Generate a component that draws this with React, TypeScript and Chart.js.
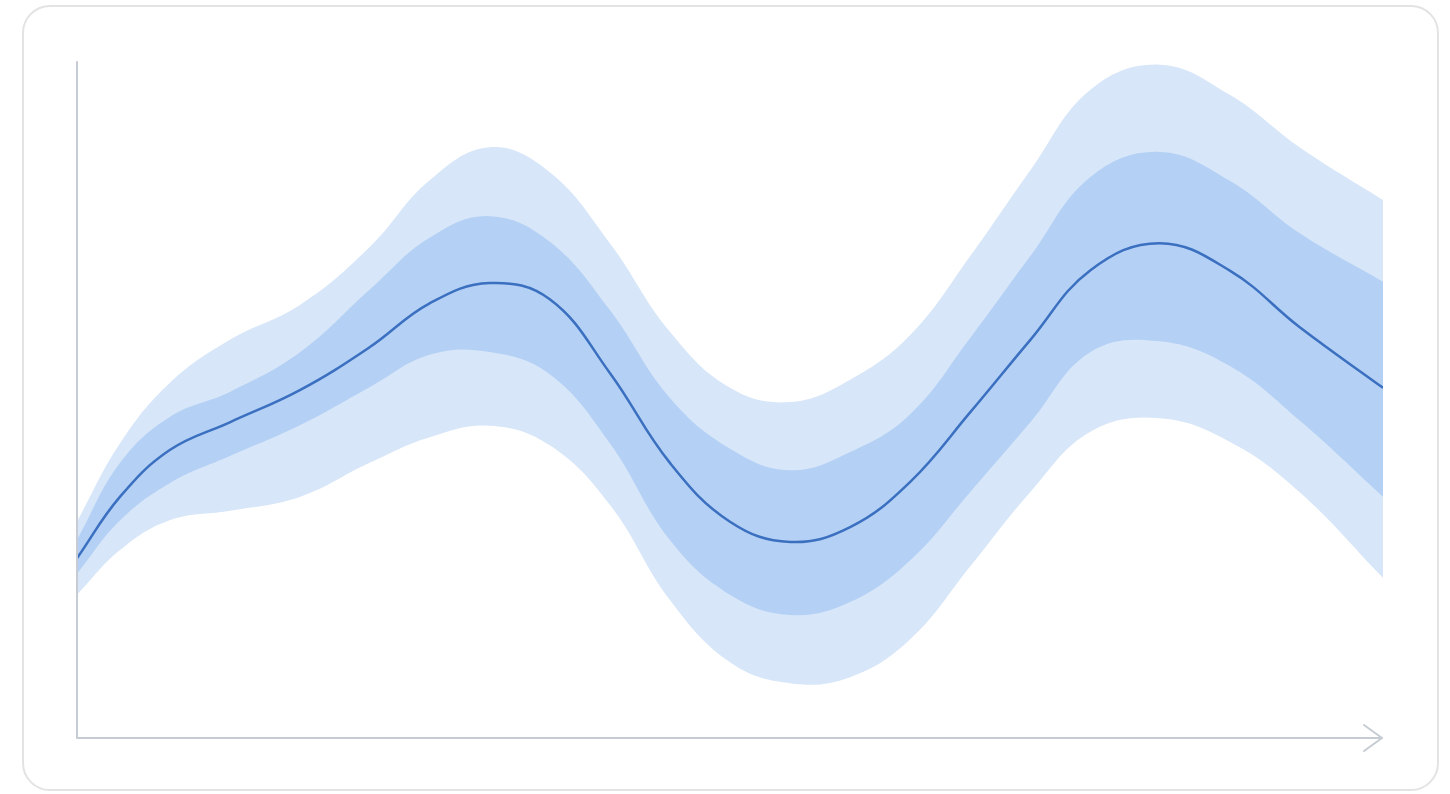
import React, { useEffect, useRef } from "react";
import { Chart, registerables } from "chart.js";

Chart.register(...registerables);

// x positions (time units, 0..100)
const xValues = [0, 3.3, 7.1, 11.7, 17.1, 22.4, 27.0, 31.6, 36.2, 40.8, 45.4, 50.0, 54.6, 59.2, 63.8, 68.4, 73.0, 77.6, 82.9, 88.3, 93.6, 100];

const centerLine = [26.6, 35.7, 42.6, 46.7, 51.5, 57.8, 64.3, 67.3, 64.9, 54.0, 40.7, 32.0, 29.0, 31.2, 37.9, 48.2, 58.9, 69.2, 73.2, 69.1, 60.8, 51.8];
const innerUpper = [29.3, 40.7, 47.5, 51.2, 57.1, 66.3, 74.0, 77.2, 73.4, 63.3, 50.3, 42.8, 39.6, 42.3, 47.9, 59.2, 71.3, 83.0, 86.7, 82.4, 74.7, 67.5];
const innerLower = [24.3, 32.2, 37.7, 41.7, 46.3, 51.9, 56.7, 57.1, 53.8, 43.6, 29.3, 21.2, 18.2, 20.1, 26.3, 36.4, 46.7, 57.1, 58.7, 55.0, 47.0, 35.7];
const outerUpper = [32.0, 43.6, 52.5, 58.9, 64.1, 72.6, 82.5, 87.4, 83.7, 73.2, 60.1, 51.8, 49.7, 53.0, 59.6, 71.3, 84.0, 95.9, 99.6, 95.1, 87.4, 79.6];
const outerLower = [21.2, 27.8, 32.2, 33.6, 35.7, 40.7, 44.5, 46.2, 43.3, 34.5, 20.4, 11.2, 8.1, 9.0, 14.6, 25.4, 36.4, 45.3, 47.3, 43.8, 36.4, 23.7];

const toPoints = (ys: number[]) => ys.map((y, i) => ({ x: xValues[i], y }));

const axesPlugin = {
  id: "arrowAxes",
  afterDatasetsDraw(chart: any) {
    const { ctx, chartArea } = chart;
    const { left, right, top, bottom } = chartArea;
    ctx.save();
    ctx.strokeStyle = "#c7ccd4";
    ctx.lineWidth = 2;
    ctx.lineCap = "round";
    ctx.lineJoin = "round";
    ctx.beginPath();
    ctx.moveTo(left, top);
    ctx.lineTo(left, bottom);
    ctx.lineTo(right - 1, bottom);
    ctx.stroke();
    ctx.beginPath();
    ctx.moveTo(right - 19, bottom - 13);
    ctx.lineTo(right - 1, bottom);
    ctx.lineTo(right - 19, bottom + 13);
    ctx.stroke();
    ctx.restore();
  },
};

export default function App() {
  const canvasRef = useRef<HTMLCanvasElement | null>(null);

  useEffect(() => {
    if (!canvasRef.current) return;
    const lightBand = "#d7e6f8";
    const midBand = "#b4d1f5";
    const common = { pointRadius: 0, tension: 0.4, borderWidth: 0 };
    const chart = new Chart(canvasRef.current, {
      type: "line",
      data: {
        datasets: [
          { ...common, data: toPoints(outerUpper), fill: "+1", backgroundColor: lightBand, order: 3 },
          { ...common, data: toPoints(outerLower), fill: false, order: 3 },
          { ...common, data: toPoints(innerUpper), fill: "+1", backgroundColor: midBand, order: 2 },
          { ...common, data: toPoints(innerLower), fill: false, order: 2 },
          {
            ...common,
            data: toPoints(centerLine),
            fill: false,
            borderColor: "#3b6fc0",
            borderWidth: 2.5,
            order: 1,
          },
        ],
      },
      options: {
        animation: false,
        responsive: false,
        maintainAspectRatio: false,
        parsing: false as any,
        layout: { padding: { left: 77, top: 62, right: 67, bottom: 56 } },
        plugins: { legend: { display: false }, tooltip: { enabled: false } },
        scales: {
          x: { type: "linear", min: 0, max: 100, display: false },
          y: { type: "linear", min: 0, max: 100, display: false },
        },
      },
      plugins: [axesPlugin],
    });
    return () => chart.destroy();
  }, []);

  return (
    <div style={{ position: "fixed", left: 0, top: 0, width: 1450, height: 794, background: "#ffffff" }}>
      <div
        style={{
          position: "absolute",
          left: 22,
          top: 5,
          width: 1413,
          height: 782,
          border: "2px solid #e3e3e3",
          borderRadius: 28,
          background: "#ffffff",
        }}
      />
      <canvas
        ref={canvasRef}
        width={1450}
        height={794}
        style={{ position: "absolute", left: 0, top: 0, width: 1450, height: 794 }}
      />
    </div>
  );
}
